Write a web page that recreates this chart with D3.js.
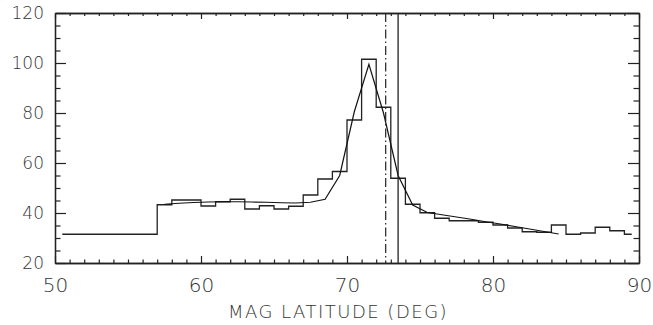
<!DOCTYPE html>
<html>
<head>
<meta charset="utf-8">
<script src="https://cdn.jsdelivr.net/npm/d3@7"></script>
<style>
  body { margin: 0; background: #fff; }
  text { font-family: "DejaVu Sans", "Liberation Sans", sans-serif; font-weight: 200; fill: #333; }
</style>
</head>
<body>
<div id="chart"></div>
<script>
// histogram: bin edges and counts
var binEdges = [50.5, 57, 58, 59, 60, 61, 62, 63, 64, 65, 66, 67, 68, 69, 70, 71, 72, 73, 74,
                75, 76, 77, 78, 79, 80, 81, 82, 83, 84, 85, 86, 87, 88, 89, 89.5];
var binValues = [31.5, 43.3, 45.2, 45.2, 42.8, 44.5, 45.5, 41.6, 42.9, 41.6, 42.7, 47.2, 53.6, 56.6,
                 77.2, 101.5, 82.3, 53.9, 43.5, 40.1, 37.9, 36.9, 36.9, 36.3, 35.2, 34.0, 32.5,
                 32.3, 35.2, 31.5, 32.0, 34.3, 32.9, 31.5];

// fitted curve
var fitLat = [57.5, 58.5, 59.5, 60.5, 61.5, 62.5, 63.5, 64.5, 65.5, 66.5, 67.5, 68.5, 69.5, 70.5,
              71.5, 72.5, 73.5, 74.5, 75.5, 76.5, 77.5, 78.5, 79.5, 80.5, 81.5, 82.5, 83.5, 84.5];
var fitValues = [43.5, 43.9, 44.2, 44.4, 44.5, 44.5, 44.4, 44.3, 44.1, 44.0, 44.3, 45.5, 55.0, 80.5,
                 99.5, 80.0, 55.0, 43.2, 40.2, 39.3, 38.4, 37.5, 36.5, 35.6, 34.6, 33.6, 32.6, 31.6];

var dashDotLat = 72.65;
var solidLat = 73.5;

var xMajor = [50, 60, 70, 80, 90];
var yMajor = [20, 40, 60, 80, 100, 120];
var xTitle = "MAG LATITUDE (DEG)";

function init()
{
    var w = 653, h = 325;
    var left = 55, right = 639, top = 13, bottom = 263;

    var svg = d3.select("#chart").append("svg")
        .attr("width", w).attr("height", h);

    var x = d3.scaleLinear().domain([50, 90]).range([left, right]);
    var y = d3.scaleLinear().domain([20, 120]).range([bottom, top]);

    var xMinor = d3.range(50, 91, 1).filter(function(d) { return d % 10 !== 0; });
    var yMinor = d3.range(20, 121, 5).filter(function(d) { return d % 20 !== 0; });

    function styleAxis(g) {
        g.selectAll(".domain").attr("stroke", "#222").attr("stroke-width", 1.3);
        g.selectAll(".tick line").attr("stroke", "#222").attr("stroke-width", 1.2);
    }

    // bottom
    svg.append("g").attr("transform", "translate(0," + bottom + ")")
        .call(d3.axisBottom(x).tickValues(xMajor).tickSizeInner(-7).tickSizeOuter(0).tickPadding(15).tickFormat(d3.format("d")))
        .call(styleAxis)
        .selectAll("text").style("font-size", "20px").attr("fill", "#333");
    svg.append("g").attr("transform", "translate(0," + bottom + ")")
        .call(d3.axisBottom(x).tickValues(xMinor).tickSizeInner(-3.5).tickSizeOuter(0).tickFormat(""))
        .call(styleAxis);
    // top
    svg.append("g").attr("transform", "translate(0," + top + ")")
        .call(d3.axisTop(x).tickValues(xMajor).tickSizeInner(-6).tickSizeOuter(0).tickFormat(""))
        .call(styleAxis);
    svg.append("g").attr("transform", "translate(0," + top + ")")
        .call(d3.axisTop(x).tickValues(xMinor).tickSizeInner(-3).tickSizeOuter(0).tickFormat(""))
        .call(styleAxis);
    // left
    svg.append("g").attr("transform", "translate(" + left + ",0)")
        .call(d3.axisLeft(y).tickValues(yMajor).tickSizeInner(-11).tickSizeOuter(0).tickPadding(11).tickFormat(d3.format("d")))
        .call(styleAxis)
        .selectAll("text").style("font-size", "17px").attr("fill", "#333");
    svg.append("g").attr("transform", "translate(" + left + ",0)")
        .call(d3.axisLeft(y).tickValues(yMinor).tickSizeInner(-5.5).tickSizeOuter(0).tickFormat(""))
        .call(styleAxis);
    // right
    svg.append("g").attr("transform", "translate(" + right + ",0)")
        .call(d3.axisRight(y).tickValues(yMajor).tickSizeInner(-11).tickSizeOuter(0).tickFormat(""))
        .call(styleAxis);
    svg.append("g").attr("transform", "translate(" + right + ",0)")
        .call(d3.axisRight(y).tickValues(yMinor).tickSizeInner(-5.5).tickSizeOuter(0).tickFormat(""))
        .call(styleAxis);

    // histogram
    var histPts = binValues.map(function(v, i) { return [binEdges[i], v]; });
    histPts.push([binEdges[binEdges.length - 1], binValues[binValues.length - 1]]);
    var step = d3.line()
        .x(function(d) { return x(d[0]); })
        .y(function(d) { return y(d[1]); })
        .curve(d3.curveStepAfter);
    svg.append("path").datum(histPts)
        .attr("d", step)
        .attr("fill", "none").attr("stroke", "#222").attr("stroke-width", 1.3);

    // fit curve
    var fitPts = fitLat.map(function(d, i) { return [d, fitValues[i]]; });
    var line = d3.line()
        .x(function(d) { return x(d[0]); })
        .y(function(d) { return y(d[1]); });
    svg.append("path").datum(fitPts)
        .attr("d", line)
        .attr("fill", "none").attr("stroke", "#111").attr("stroke-width", 1.2);

    // vertical markers
    svg.append("line")
        .attr("x1", x(dashDotLat)).attr("x2", x(dashDotLat))
        .attr("y1", y(120)).attr("y2", y(20))
        .attr("stroke", "#222").attr("stroke-width", 1.2)
        .attr("stroke-dasharray", "9,3,1.5,3");
    svg.append("line")
        .attr("x1", x(solidLat)).attr("x2", x(solidLat))
        .attr("y1", y(120)).attr("y2", y(20))
        .attr("stroke", "#222").attr("stroke-width", 1.3);

    svg.append("text")
        .attr("x", 338).attr("y", 318)
        .attr("text-anchor", "middle")
        .style("font-size", "18px").style("letter-spacing", "1.5px")
        .text(xTitle);
}
window.onload = init;
</script>
</body>
</html>
